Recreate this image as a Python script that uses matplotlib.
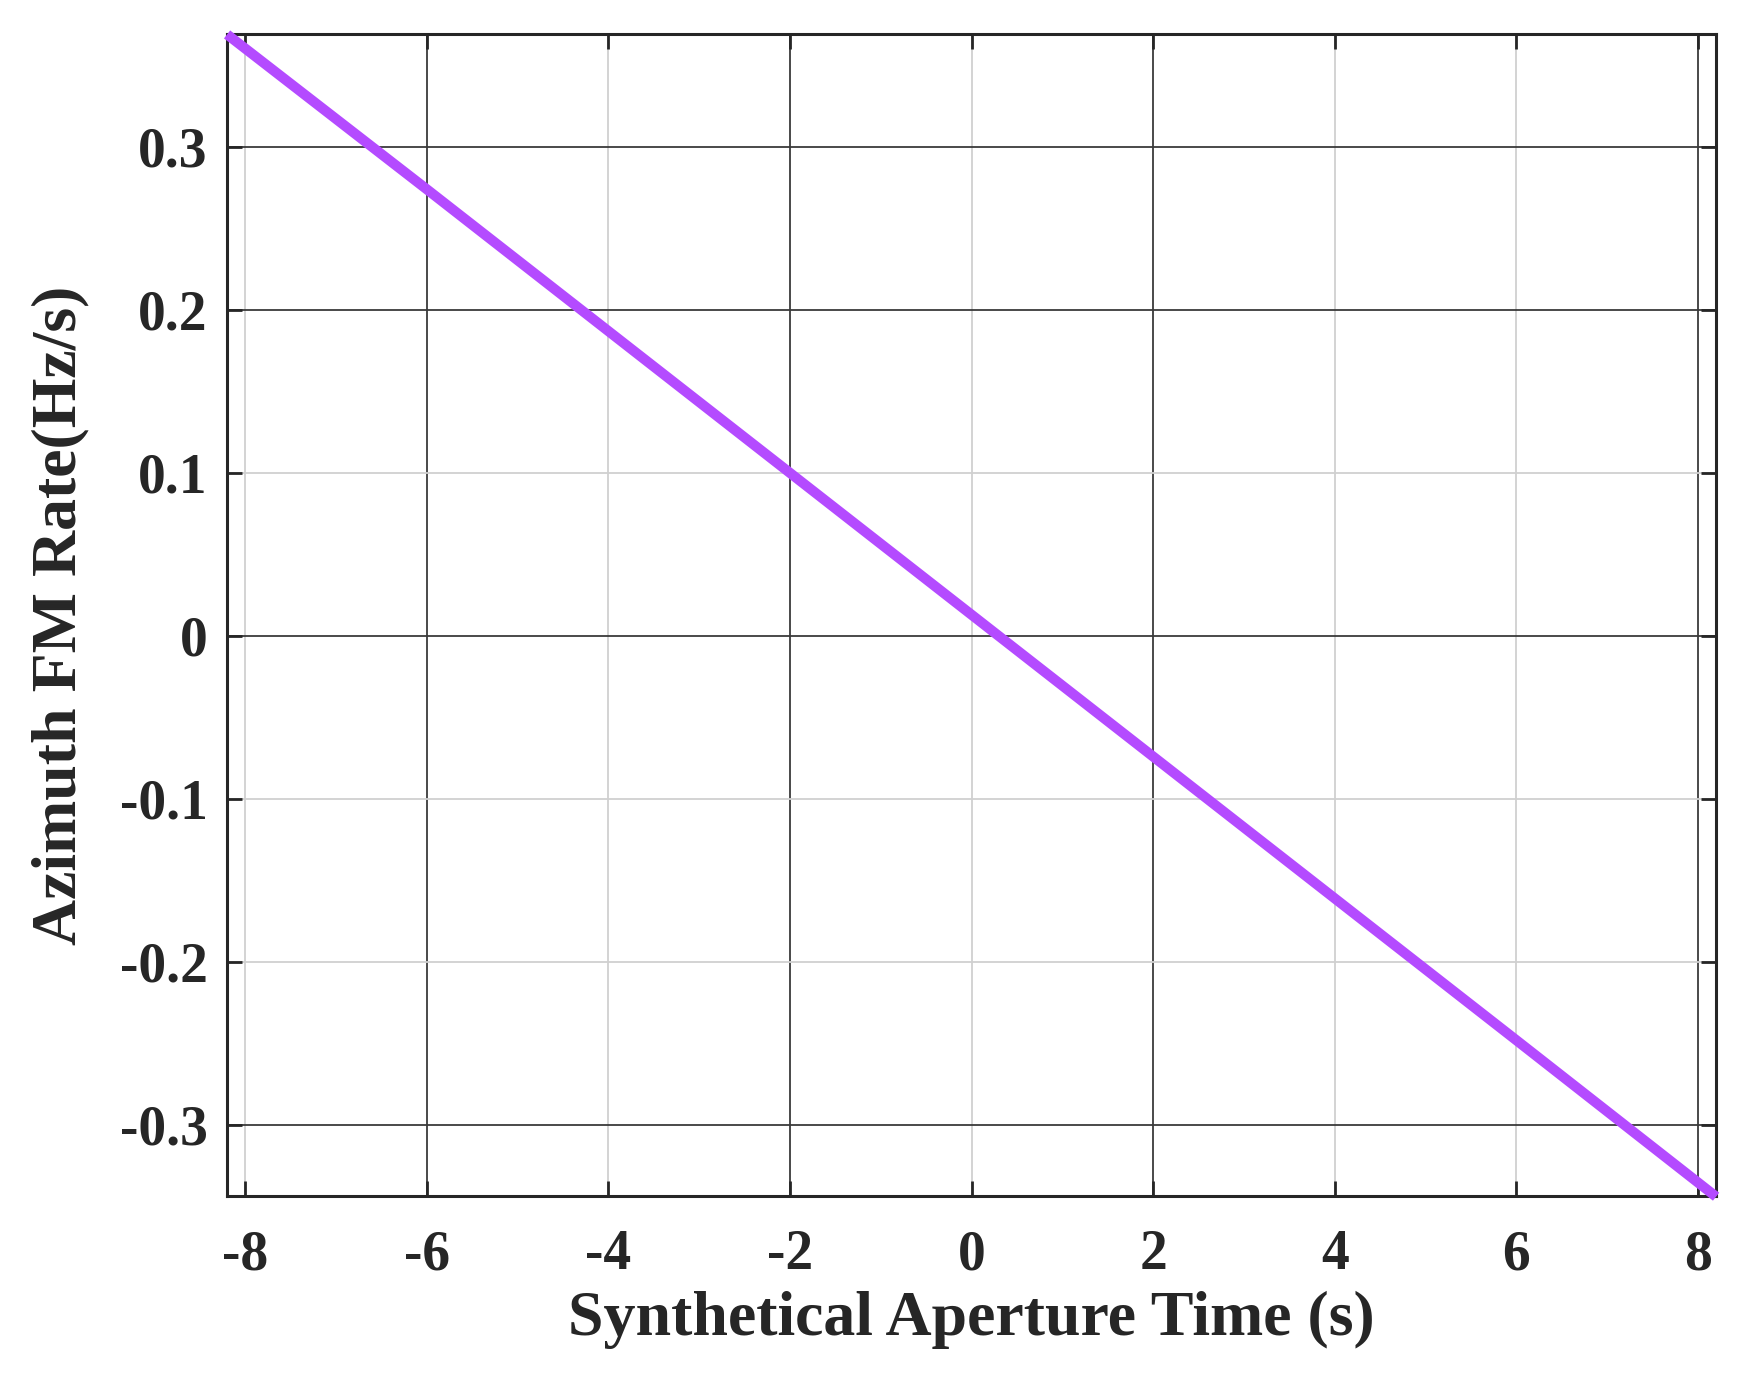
import numpy as np
import matplotlib.pyplot as plt

# synthetic aperture time (s) and azimuth FM rate (Hz/s)
t = np.array([-8.2, -6.0, -4.0, -2.0, 0.0, 2.0, 4.0, 6.0, 8.2])
fm_rate = np.array([0.369, 0.274, 0.187, 0.100, 0.013, -0.074, -0.161, -0.248, -0.344])

xticks = [-8, -6, -4, -2, 0, 2, 4, 6, 8]
yticks = [-0.3, -0.2, -0.1, 0, 0.1, 0.2, 0.3]
ytick_labels = ['-0.3', '-0.2', '-0.1', '0', '0.1', '0.2', '0.3']

plt.rcParams['font.family'] = ['Liberation Serif', 'DejaVu Serif']
plt.rcParams['font.weight'] = 'bold'
plt.rcParams['axes.unicode_minus'] = False

fig = plt.figure(figsize=(17.52, 13.8), dpi=100)
ax = fig.add_axes([0.1296, 0.1333, 0.8499, 0.8421])

ax.plot(t, fm_rate, color='#b44bff', linewidth=7.3, solid_capstyle='butt', zorder=3, clip_on=False)

ax.set_xlim(-8.2, 8.2)
ax.set_ylim(-0.3436, 0.3693)
ax.set_xticks(xticks)
ax.set_yticks(yticks)
ax.set_yticklabels(ytick_labels)

ax.grid(True, linewidth=1.3)
dark_x = [-6, -2, 2, 8]
dark_y = [0.3, 0.2, 0, -0.3]
for tk, gl in zip(xticks, ax.xaxis.get_gridlines()):
    gl.set_color('#3a3a3a' if tk in dark_x else '#d0d0d0')
for tk, gl in zip(yticks, ax.yaxis.get_gridlines()):
    gl.set_color('#3a3a3a' if tk in dark_y else '#d0d0d0')

ax.tick_params(direction='in', length=11, width=2, top=True, right=True,
               labelsize=40, colors='#262626')
ax.tick_params(axis='x', pad=24)
ax.tick_params(axis='y', pad=14)
for lab in ax.get_xticklabels() + ax.get_yticklabels():
    lab.set_fontweight('bold')
for sp in ax.spines.values():
    sp.set_linewidth(2.2)
    sp.set_color('#262626')

ax.set_xlabel('Synthetical Aperture Time (s)', fontsize=46, fontweight='bold', color='#262626', labelpad=7)
ax.set_ylabel('Azimuth FM Rate(Hz/s)', fontsize=46, fontweight='bold', color='#262626', labelpad=22)

fig.savefig('out.png', dpi=100, facecolor='white')
